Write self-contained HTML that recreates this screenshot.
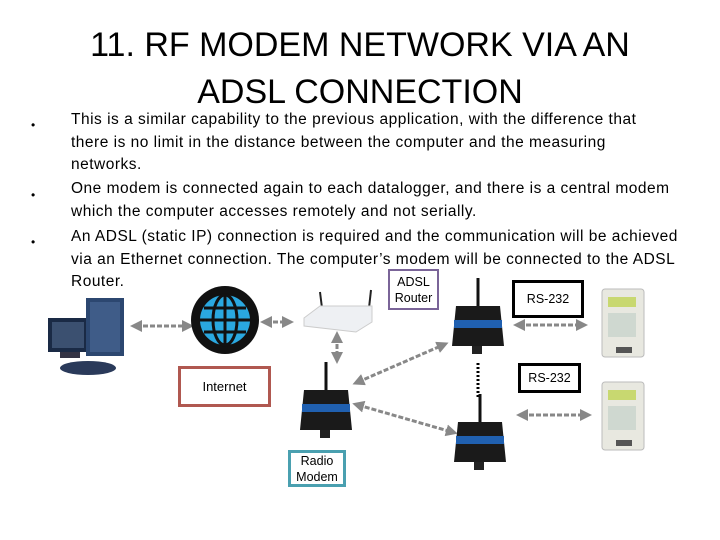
<!DOCTYPE html>
<html><head><meta charset="utf-8"><style>
body{margin:0;width:720px;height:540px;background:#fff;position:relative;overflow:hidden;font-family:"Liberation Sans",sans-serif}
.t{position:absolute;left:0;width:720px;text-align:center;font-size:34px;line-height:47px;top:22px;color:#000}
.b{position:absolute;left:71px;font-size:15.5px;letter-spacing:0.5px;line-height:22.5px;color:#000;white-space:nowrap}
.d{position:absolute;left:31px;font-size:12px}
.box{position:absolute;box-sizing:border-box;background:#fff;font-size:12.5px;text-align:center;display:flex;align-items:center;justify-content:center;line-height:16px}
</style></head><body>
<div class="t">11. RF MODEM NETWORK VIA AN<br>ADSL CONNECTION</div>
<div class="d" style="top:118px">•</div><div class="d" style="top:188px">•</div><div class="d" style="top:235px">•</div>
<div class="b" style="top:109px">This is a similar capability to the previous application, with the difference that<br>there is no limit in the distance between the computer and the measuring<br>networks.</div>
<div class="b" style="top:178px">One modem is connected again to each datalogger, and there is a central modem<br>which the computer accesses remotely and not serially.</div>
<div class="b" style="top:226px">An ADSL (static IP) connection is required and the communication will be achieved<br>via an Ethernet connection. The computer’s modem will be connected to the ADSL<br>Router.</div>
<svg style="position:absolute;left:0;top:0" width="720" height="540">
<defs><marker id="a" markerWidth="4" markerHeight="4" refX="2" refY="2" orient="auto-start-reverse"><path d="M0,0L4,2L0,4z" fill="#888"/></marker>
<g id="m"><line x1="0" y1="-38" x2="0" y2="-10" stroke="#111" stroke-width="3"/>
<path d="M-22,-10 L22,-10 L26,30 L-26,30z" fill="#1a1a1a"/><rect x="-24" y="4" width="48" height="8" fill="#2060b0"/>
<rect x="-6" y="30" width="10" height="8" fill="#222"/></g>
<g id="dl"><rect x="0" y="0" width="42" height="68" rx="3" fill="#e8e8e0" stroke="#bbb"/><rect x="6" y="8" width="28" height="10" fill="#c8d870"/><rect x="6" y="24" width="28" height="24" fill="#cfd8d0"/><rect x="14" y="58" width="16" height="6" fill="#555"/></g>
</defs>
<g stroke="#888" stroke-width="3" stroke-dasharray="5,2" fill="none" marker-start="url(#a)" marker-end="url(#a)">
<line x1="136" y1="326" x2="188" y2="326"/><line x1="266" y1="322" x2="288" y2="322"/>
<line x1="337" y1="337" x2="337" y2="358"/>
<line x1="358" y1="382" x2="443" y2="345"/><line x1="358" y1="405" x2="452" y2="432"/>
<line x1="519" y1="325" x2="582" y2="325"/><line x1="522" y1="415" x2="586" y2="415"/>
</g>
<line x1="478" y1="363" x2="478" y2="398" stroke="#000" stroke-width="3" stroke-dasharray="2,2"/>
<rect x="48" y="318" width="40" height="34" fill="#1a2a45"/><rect x="52" y="322" width="32" height="26" fill="#3b5070"/>
<rect x="60" y="352" width="20" height="6" fill="#334"/>
<rect x="86" y="298" width="38" height="58" fill="#2c4770"/><rect x="90" y="302" width="30" height="50" fill="#3f5c88"/>
<ellipse cx="88" cy="368" rx="28" ry="7" fill="#2a3a5a"/>
<circle cx="225" cy="320" r="34" fill="#111"/><circle cx="225" cy="320" r="25" fill="#2aa8e0"/>
<g stroke="#111" stroke-width="3" fill="none"><line x1="200" y1="320" x2="250" y2="320"/><line x1="225" y1="295" x2="225" y2="345"/><ellipse cx="225" cy="320" rx="12" ry="25"/><line x1="204" y1="308" x2="246" y2="308"/><line x1="204" y1="332" x2="246" y2="332"/></g>
<line x1="322" y1="308" x2="320" y2="292" stroke="#222" stroke-width="2"/><line x1="369" y1="308" x2="371" y2="290" stroke="#222" stroke-width="2"/>
<path d="M304,318 L320,306 L372,306 L372,322 L356,332 L304,326z" fill="#eef0f3" stroke="#ccc"/>
<use href="#m" x="326" y="400"/><use href="#m" x="478" y="316"/><use href="#m" x="480" y="432"/>
<use href="#dl" x="602" y="289"/><use href="#dl" x="602" y="382"/>
</svg>
<div class="box" style="left:388px;top:269px;width:51px;height:41px;border:2px solid #7a6498">ADSL<br>Router</div>
<div class="box" style="left:178px;top:366px;width:93px;height:41px;border:3px solid #b05850;font-size:13px">Internet</div>
<div class="box" style="left:288px;top:450px;width:58px;height:37px;border:3px solid #4aa0b0">Radio<br>Modem</div>
<div class="box" style="left:512px;top:280px;width:72px;height:38px;border:3px solid #000">RS-232</div>
<div class="box" style="left:518px;top:363px;width:63px;height:30px;border:3px solid #000">RS-232</div>
</body></html>
